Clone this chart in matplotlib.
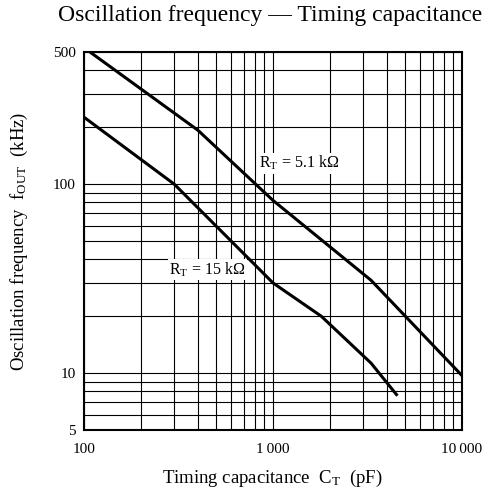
import matplotlib
matplotlib.use("Agg")
import matplotlib.pyplot as plt
from matplotlib.ticker import FixedLocator, LogLocator, NullFormatter, FixedFormatter

plt.rcParams['font.family'] = ['Liberation Serif', 'DejaVu Serif']
plt.rcParams['mathtext.fontset'] = 'custom'
plt.rcParams['mathtext.rm'] = 'Liberation Serif'
plt.rcParams['mathtext.it'] = 'Liberation Serif:italic'

# 读图得到的数据 (pF, kHz)
ct_51k = [100, 400, 1000, 3300, 10000]
f_51k = [527, 193, 82, 31, 9.7]
ct_15k = [100, 300, 1000, 1800, 3300, 4500]
f_15k = [226, 100, 30, 20, 11.3, 7.7]

x_ticks = [100, 1000, 10000]
x_labels = ['100', '1\u2009000', '10\u2009000']
y_ticks = [5, 10, 100, 500]
y_labels = ['5', '10', '100', '500']

fig = plt.figure(figsize=(4.94, 4.94), dpi=100)
ax = fig.add_axes([84 / 494, 1 - 430 / 494, 378 / 494, 378 / 494])

ax.set_xscale('log')
ax.set_yscale('log')
ax.set_xlim(100, 10000)
ax.set_ylim(5, 500)

ax.plot(ct_51k, f_51k, color='black', lw=2.2, solid_joinstyle='round')
ax.plot(ct_15k, f_15k, color='black', lw=2.2, solid_joinstyle='round')

# 网格
ax.xaxis.set_major_locator(FixedLocator(x_ticks))
ax.xaxis.set_major_formatter(FixedFormatter(x_labels))
ax.xaxis.set_minor_locator(LogLocator(base=10, subs=range(2, 10)))
ax.xaxis.set_minor_formatter(NullFormatter())
ax.yaxis.set_major_locator(FixedLocator(y_ticks))
ax.yaxis.set_major_formatter(FixedFormatter(y_labels))
ax.yaxis.set_minor_locator(LogLocator(base=10, subs=range(2, 10)))
ax.yaxis.set_minor_formatter(NullFormatter())
ax.grid(which='both', color='black', lw=0.8)
ax.set_axisbelow(True)
ax.tick_params(which='both', length=0, labelsize=11)
ax.tick_params(axis='x', pad=9)
ax.tick_params(axis='y', pad=6)
for s in ax.spines.values():
    s.set_linewidth(1.5)

# 曲线标注
box = dict(facecolor='white', edgecolor='none', pad=1.0)
ax.text(1372, 129, r'R$_\mathrm{T}$ = 5.1 k$\Omega$', ha='center', va='center',
        fontsize=11.5, bbox=box)
ax.text(448, 35.2, r'R$_\mathrm{T}$ = 15 k$\Omega$', ha='center', va='center',
        fontsize=11.5, bbox=box)

fig.text(270 / 494, 1 - 15 / 494, 'Oscillation frequency \u2014 Timing capacitance',
         ha='center', va='center', fontsize=17)
fig.text(272 / 494, 1 - 478 / 494, r'Timing capacitance  C$_\mathrm{T}$  (pF)',
         ha='center', va='center', fontsize=13.5)
fig.text(19 / 494, 1 - 241 / 494, r'Oscillation frequency  f$_\mathrm{OUT}$  (kHz)',
         ha='center', va='center', rotation=90, fontsize=13.5)

fig.savefig('out.png', dpi=100)
